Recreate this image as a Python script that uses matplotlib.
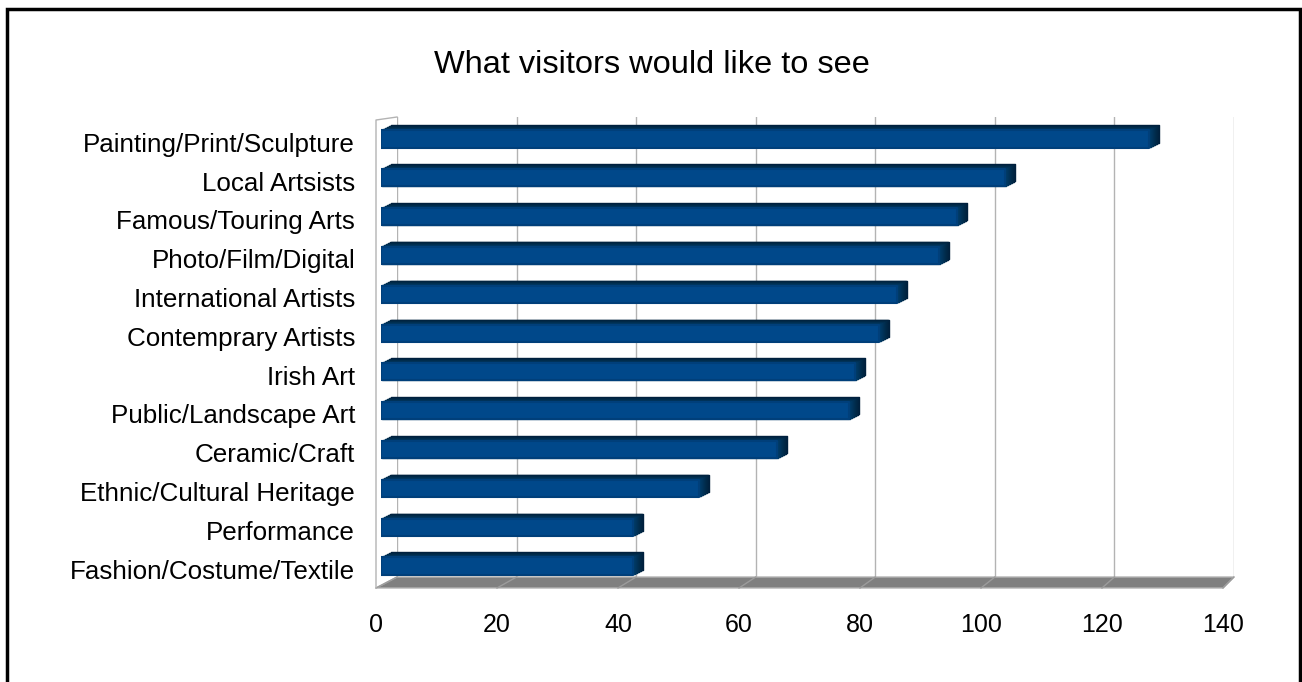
import matplotlib
matplotlib.use('Agg')
import matplotlib.pyplot as plt
from matplotlib.transforms import offset_copy
from matplotlib.patches import Polygon, Rectangle
from matplotlib.lines import Line2D

plt.rcParams['font.family'] = ['Liberation Sans', 'DejaVu Sans']

# survey answers, top of the chart first
categories = [
    'Painting/Print/Sculpture',
    'Local Artsists',
    'Famous/Touring Arts',
    'Photo/Film/Digital',
    'International Artists',
    'Contemprary Artists',
    'Irish Art',
    'Public/Landscape Art',
    'Ceramic/Craft',
    'Ethnic/Cultural Heritage',
    'Performance',
    'Fashion/Costume/Textile',
]
visitors = [128, 104, 96, 93, 86, 83, 79, 78, 66, 53, 42, 42]
x_ticks = [0, 20, 40, 60, 80, 100, 120, 140]
x_max = 140

W, H = 1302, 682
fig = plt.figure(figsize=(W / 100, H / 100), dpi=100)


def box(left, top, right, bottom):
    return [left / W, 1 - bottom / H, (right - left) / W, (bottom - top) / H]


def fig_xy(trans, pt):
    return fig.transFigure.inverted().transform(trans.transform(pt))


# back wall, front plane (labels + floor edge) and the bars sit at different depths
wall = fig.add_axes(box(397, 117, 1234, 577))
ax = fig.add_axes(box(376, 120, 1223, 588))
bars = fig.add_axes(box(381, 120, 1221, 588))

ypos = list(range(len(categories) - 1, -1, -1))

# back wall grid
wall.set_xlim(0, x_max)
wall.set_ylim(0, 1)
wall.set_xticks(x_ticks)
wall.set_yticks([])
wall.tick_params(length=0, labelbottom=False)
wall.grid(axis='x', color='#b3b3b3', linewidth=1)
for s in wall.spines.values():
    s.set_visible(False)
wall.patch.set_visible(False)

# front plane with the labels
ax.set_xlim(0, x_max)
ax.set_ylim(-0.487, 11.573)
ax.set_xticks(x_ticks)
ax.set_yticks(ypos, categories)
ax.tick_params(axis='y', length=0, labelsize=18.7, pad=15)
ax.tick_params(axis='x', length=0, labelsize=18, pad=18)
for s in ax.spines.values():
    s.set_visible(False)
ax.patch.set_visible(False)

# floor
floor = Polygon([fig_xy(ax.transAxes, (0, 0)), fig_xy(ax.transAxes, (1, 0)),
                 fig_xy(wall.transAxes, (1, 0)), fig_xy(wall.transAxes, (0, 0))],
                closed=True, transform=fig.transFigure,
                facecolor='#808080', edgecolor='#b3b3b3', linewidth=1)
fig.patches.append(floor)
for v in x_ticks:
    p0 = fig_xy(ax.get_xaxis_transform(), (v, 0))
    p1 = fig_xy(wall.get_xaxis_transform(), (v, 0))
    fig.lines.append(Line2D([p0[0], p1[0]], [p0[1], p1[1]], transform=fig.transFigure,
                            color='#9c9c9c', linewidth=1))

# left side wall
a = fig_xy(ax.transAxes, (0, 0))
b = fig_xy(ax.transAxes, (0, 1))
c = fig_xy(wall.transAxes, (0, 1))
fig.lines.append(Line2D([a[0], b[0], c[0]], [a[1], b[1], c[1]], transform=fig.transFigure,
                        color='#b3b3b3', linewidth=1))

# bars: a stack of shifted copies gives the extruded top and end cap
depth = 10
shades = ['#00203d', '#00223f', '#002543', '#002846', '#002b4b',
          '#002e50', '#003155', '#00345b', '#003761', '#003a66']
for i in range(depth, 0, -1):
    tr = offset_copy(bars.transData, fig=fig, x=i, y=i * 0.5, units='dots')
    bars.barh(ypos, visitors, height=0.44, color=shades[depth - i],
              edgecolor=shades[depth - i], linewidth=1, joinstyle='round', transform=tr)
bars.barh(ypos, visitors, height=0.44, color='#00488a', edgecolor='#003f7a',
          linewidth=1.5, joinstyle='round')
bars.set_xlim(0, x_max)
bars.set_ylim(-0.567, 11.49)
bars.axis('off')

fig.text(652 / W, 1 - 73 / H, 'What visitors would like to see', ha='center', va='baseline',
         fontsize=23.4)

# outer frame
fig.patches.append(Rectangle((6.5 / W, -0.05), (1300 - 6.5) / W, 1.05 - 8.5 / H,
                             transform=fig.transFigure, fill=False,
                             edgecolor='black', linewidth=2.5))

fig.savefig('out.png', dpi=100)
